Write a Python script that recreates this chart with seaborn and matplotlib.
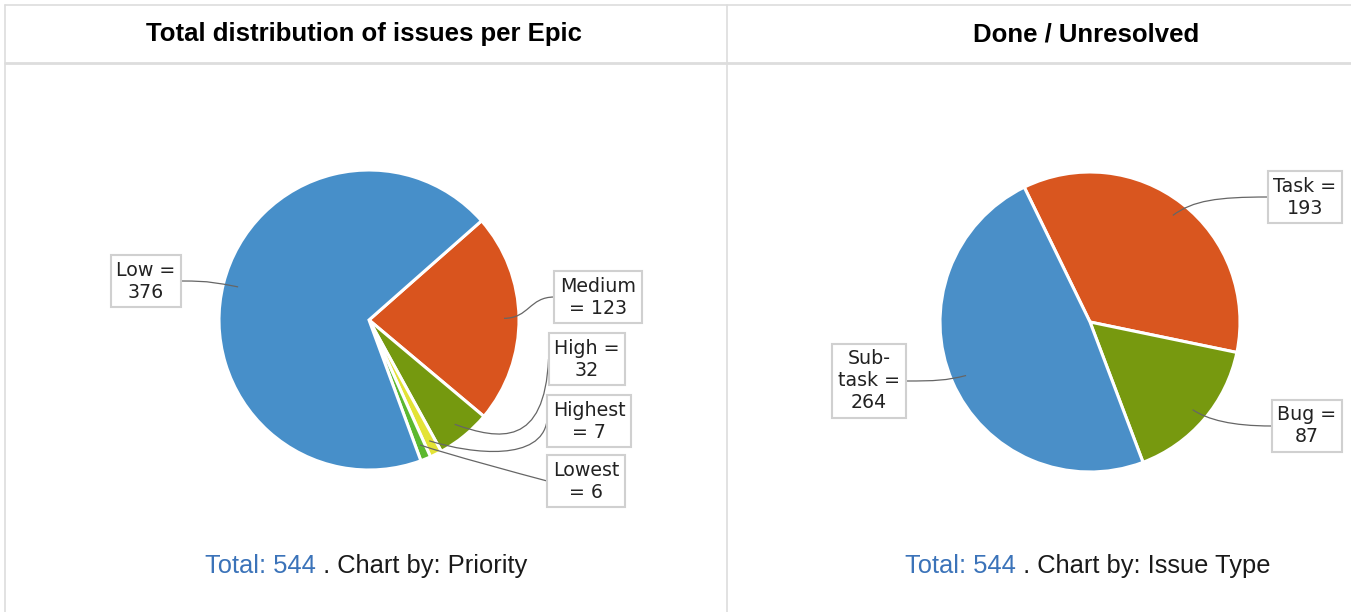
import numpy as np
import matplotlib.pyplot as plt
import seaborn as sns
from matplotlib.path import Path
from matplotlib.patches import PathPatch

W, H = 1351, 612

# grafico 1 - prioridade (ordem horaria a partir da fatia Medium)
prioridades = ['Medium', 'High', 'Highest', 'Lowest', 'Low']
qtd_prioridade = [123, 32, 7, 6, 376]
rotulos_prioridade = ['Medium\n= 123', 'High =\n32', 'Highest\n= 7', 'Lowest\n= 6', 'Low =\n376']
cores_prioridade = ['#d9541e', '#75990f', '#e3e336', '#5cb82f', '#478fc9']

# grafico 2 - tipo de issue
tipos = ['Task', 'Bug', 'Sub-task']
qtd_tipo = [193, 87, 264]
rotulos_tipo = ['Task =\n193', 'Bug =\n87', 'Sub-\ntask =\n264']
cores_tipo = ['#d9561f', '#77990f', '#4a8fc8']

total_prioridade = sum(qtd_prioridade)
total_tipo = sum(qtd_tipo)

sns.set_style('white')
plt.rcParams['font.family'] = ['DejaVu Sans']

fig = plt.figure(figsize=(W / 100, H / 100), dpi=100)
ax = fig.add_axes([0, 0, 1, 1])
ax.set_xlim(0, W)
ax.set_ylim(0, H)
ax.set_aspect('equal')
ax.axis('off')

raio = 150

# caixas de rotulo (pixels, y para baixo) e desvios dos pontos de controle das curvas
pos_prioridade = [(598, 297), (587, 359), (589, 421), (586, 481), (146, 281)]
curvas_prioridade = [((-25, 0), (25, 0)), ((-4, 88), (45, 16)), ((-6, 40), (45, 14)),
                     ((-30, -8), (30, 10)), ((30, 0), (-22, -4))]
pos_tipo = [(1305, 197), (1307, 426), (869, 381)]
curvas_tipo = [((-50, 0), (20, -15)), ((-40, 0), (15, 10)), ((30, 0), (-20, 5))]

rotulos_todos = []


def pizza(valores, cores, centro, inicio, rotulos, posicoes, curvas):
    cx, cy = centro[0], H - centro[1]
    fatias, _ = ax.pie(valores, colors=cores, startangle=inicio, counterclock=False,
                       center=(cx, cy), radius=raio, frame=True,
                       wedgeprops=dict(edgecolor='white', linewidth=2.2))
    for f, rot, pos, cv in zip(fatias, rotulos, posicoes, curvas):
        ang = np.deg2rad((f.theta1 + f.theta2) / 2)
        px = cx + 0.9 * raio * np.cos(ang)
        py = cy + 0.9 * raio * np.sin(ang)
        t = ax.text(pos[0], H - pos[1], rot, ha='center', va='center', multialignment='center',
                    fontsize=13.7, linespacing=1.2, color='#222222', zorder=5,
                    bbox=dict(boxstyle='square,pad=0.3', fc='white', ec='#d0d0d0', lw=1.5))
        rotulos_todos.append((t, (px, py), cv))


pizza(qtd_prioridade, cores_prioridade, (369, 320), 41.4, rotulos_prioridade,
      pos_prioridade, curvas_prioridade)
pizza(qtd_tipo, cores_tipo, (1090, 322), 116, rotulos_tipo, pos_tipo, curvas_tipo)

ax.set_xlim(0, W)
ax.set_ylim(0, H)

# linhas de ligacao: curva de bezier da borda da caixa ate a fatia
fig.canvas.draw()
rend = fig.canvas.get_renderer()
inv = ax.transData.inverted()
for t, (px, py), (c1, c2) in rotulos_todos:
    bb = t.get_bbox_patch().get_window_extent(rend)
    (x0, y0), (x1, y1) = inv.transform([(bb.x0, bb.y0), (bb.x1, bb.y1)])
    sx = x0 if x0 > px else x1
    sy = (y0 + y1) / 2
    verts = [(sx, sy), (sx + c1[0], sy - c1[1]), (px + c2[0], py - c2[1]), (px, py)]
    caminho = Path(verts, [Path.MOVETO, Path.CURVE4, Path.CURVE4, Path.CURVE4])
    ax.add_patch(PathPatch(caminho, fc='none', ec='#666666', lw=0.9, zorder=4))

# grade da tabela
cinza = '#dddddd'
ax.plot([5, W], [H - 5, H - 5], color=cinza, lw=1.2)
ax.plot([5, W], [H - 63, H - 63], color=cinza, lw=2)
ax.plot([5, 5], [H - 5, 0], color=cinza, lw=1.2)
ax.plot([727, 727], [H - 5, 0], color=cinza, lw=1.2)

# titulos
fonte = ['Liberation Sans', 'DejaVu Sans']
ax.text(364, H - 34, 'Total distribution of issues per Epic', ha='center', va='center',
        fontsize=18.5, weight='bold', family=fonte, color='black')
ax.text(1086, H - 34, 'Done / Unresolved', ha='center', va='center',
        fontsize=18.5, weight='bold', family=fonte, color='black')

# rodapes
for x0, total, campo in [(205, total_prioridade, 'Priority'), (905, total_tipo, 'Issue Type')]:
    t1 = ax.text(x0, H - 566, f'Total: {total}', ha='left', va='center',
                 fontsize=18.4, family=fonte, color='#3b73b9')
    ax.annotate(f' . Chart by: {campo}', xy=(1, 0.5), xycoords=t1, ha='left', va='center',
                fontsize=18.4, family=fonte, color='#1a1a1a')

fig.savefig('out.png', dpi=100)
